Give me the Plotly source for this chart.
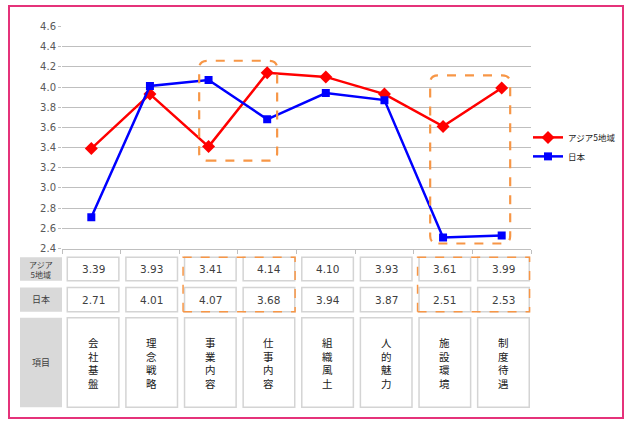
import plotly.graph_objects as go

# data
categories = ["会社基盤", "理念戦略", "事業内容", "仕事内容", "組織風土", "人的魅力", "施設環境", "制度待遇"]
asia = [3.39, 3.93, 3.41, 4.14, 4.10, 3.93, 3.61, 3.99]
japan = [2.71, 4.01, 4.07, 3.68, 3.94, 3.87, 2.51, 2.53]
series_names = ["アジア5地域", "日本"]
row_headers = ["アジア<br>5地域", "日本", "項目"]
highlight_groups = [(2, 3), (6, 7)]

W, H = 640, 426
xs = list(range(len(categories)))


def px(x):
    return x / W


def py(y):
    return 1 - y / H


fig = go.Figure()
fig.add_trace(go.Scatter(
    x=xs, y=asia, name=series_names[0], mode="lines+markers",
    line=dict(color="#FF0000", width=2.5),
    marker=dict(symbol="diamond", size=10, color="#FF0000"),
))
fig.add_trace(go.Scatter(
    x=xs, y=japan, name=series_names[1], mode="lines+markers",
    line=dict(color="#0000FF", width=2.5),
    marker=dict(symbol="square", size=8, color="#0000FF"),
))

shapes = []
annotations = []

# outer pink frame
shapes.append(dict(type="rect", xref="paper", yref="paper",
                   x0=px(9), x1=px(623), y0=py(424), y1=py(1),
                   line=dict(color="#E5327A", width=2)))

# table rows (paper y ranges)
rows = [(259, 283), (290, 315), (321, 413)]
row_vals = [asia, japan, None]
for r, (top, bot) in enumerate(rows):
    # header cell
    shapes.append(dict(type="rect", xref="paper", yref="paper",
                       x0=px(20), x1=px(62), y0=py(bot), y1=py(top),
                       fillcolor="#D9D9D9", line=dict(width=0), layer="below"))
    annotations.append(dict(xref="paper", yref="paper", x=px(41), y=py((top + bot) / 2),
                            xanchor="center", yanchor="middle",
                            text=row_headers[r], showarrow=False,
                            font=dict(size=8 if r == 0 else 9, color="#404040",
                                      family="Noto Sans CJK JP")))
    for i in xs:
        shapes.append(dict(type="rect", xref="x", yref="paper",
                           x0=i - 0.41, x1=i + 0.47, y0=py(bot), y1=py(top),
                           fillcolor="white", line=dict(color="#D4D4D4", width=1.5)))
        if row_vals[r] is not None:
            txt = f"{row_vals[r][i]:.2f}"
            size, fam, col = 10.5, "DejaVu Sans", "#404040"
        else:
            txt = "<br>".join(categories[i])
            size, fam, col = 10.5, "Noto Sans CJK JP", "#202020"
        annotations.append(dict(xref="x", yref="paper", x=i + 0.03, y=py((top + bot) / 2),
                                xanchor="center", yanchor="middle",
                                text=txt, showarrow=False,
                                font=dict(size=size, color=col, family=fam)))

# orange highlight boxes in the table
for a, b in highlight_groups:
    shapes.append(dict(type="rect", xref="x", yref="paper",
                       x0=a - 0.435, x1=b + 0.476, y0=py(315), y1=py(259),
                       line=dict(color="#F79646", width=1.5, dash="dash")))


# rounded orange highlight boxes in the chart
def rounded(x0, x1, y0, y1, rx=0.14, ry=0.075):
    return (f"M {x0 + rx},{y0} L {x1 - rx},{y0} Q {x1},{y0} {x1},{y0 + ry} "
            f"L {x1},{y1 - ry} Q {x1},{y1} {x1 - rx},{y1} "
            f"L {x0 + rx},{y1} Q {x0},{y1} {x0},{y1 - ry} "
            f"L {x0},{y0 + ry} Q {x0},{y0} {x0 + rx},{y0} Z")


box_extent = [(1.84, 3.17, 3.27, 4.26), (5.78, 7.145, 2.45, 4.115)]
for x0, x1, y0, y1 in box_extent:
    shapes.append(dict(type="path", xref="x", yref="y", path=rounded(x0, x1, y0, y1),
                       line=dict(color="#F79646", width=2.2, dash="dash")))

fig.update_layout(
    width=W, height=H,
    margin=dict(l=0, r=0, t=0, b=0),
    paper_bgcolor="white", plot_bgcolor="white",
    font=dict(family="DejaVu Sans", color="#404040"),
    showlegend=True,
    legend=dict(x=px(528), y=py(121), xanchor="left", yanchor="top",
                font=dict(size=8.5, family="Noto Sans CJK JP", color="#202020"),
                itemwidth=30, bgcolor="rgba(0,0,0,0)", tracegroupgap=0),
    xaxis=dict(domain=[px(62), px(531)], range=[-0.5, 7.5],
               showgrid=False, zeroline=False, showline=True, linecolor="#BFBFBF",
               tickvals=[i - 0.5 for i in range(len(categories) + 1)],
               ticks="outside", ticklen=4, tickcolor="#BFBFBF", showticklabels=False),
    yaxis=dict(domain=[py(250), py(22)], range=[2.4, 4.6], dtick=0.2, tickformat=".1f",
               showgrid=True, gridcolor="#BFBFBF", gridwidth=1, zeroline=False,
               ticks="outside", ticklen=3, tickcolor="#BFBFBF",
               tickfont=dict(size=10, color="#595959")),
    shapes=shapes,
    annotations=annotations,
)

# drop the page's default body margin so the figure sits at the window origin
fig.write_html("out.html", config={"displayModeBar": False},
               post_script="document.body.style.margin='0';")
